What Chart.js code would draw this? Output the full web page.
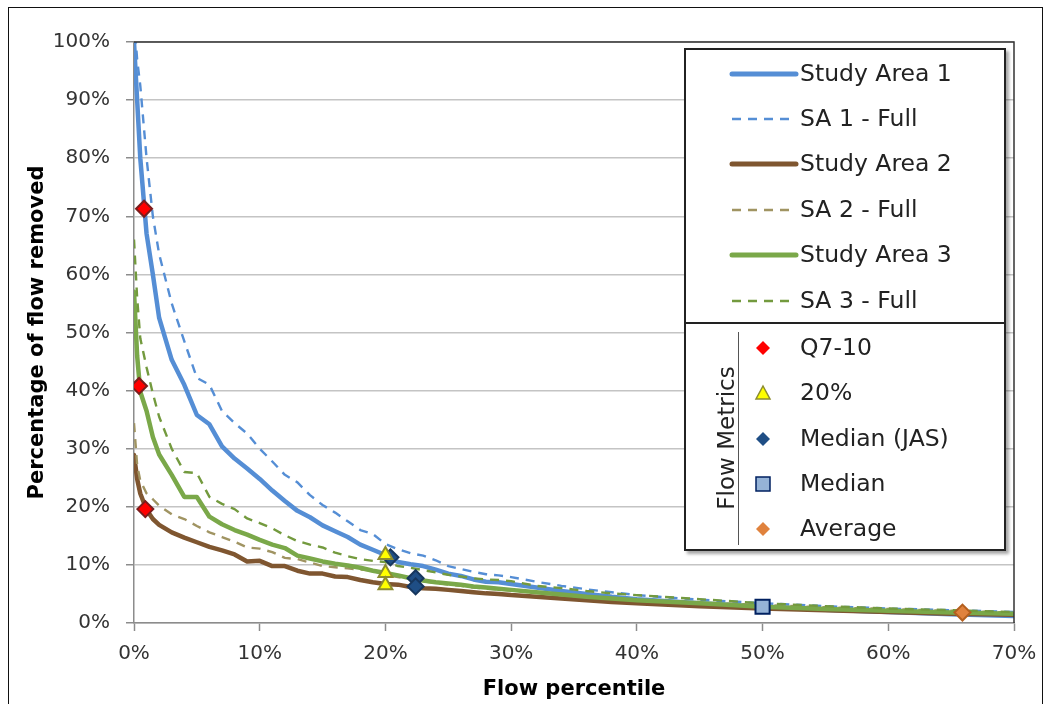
<!DOCTYPE html>
<html>
<head>
<meta charset="utf-8">
<script src="https://cdn.jsdelivr.net/npm/chart.js@4.4.1/dist/chart.umd.min.js"></script>
<style>
  body { margin: 0; background: #fff; }
  #wrap { position: relative; width: 1050px; height: 704px; overflow: hidden; }
  #frame { position: absolute; left: 8px; top: 7px; width: 1035px; height: 705px; border: 1.5px solid #111; box-sizing: border-box; }
  canvas { position: absolute; left: 0; top: 0; }
  #legend { position: absolute; left: 684px; top: 48px; width: 322px; height: 503px; border: 2px solid #222;
            background: #fff; box-sizing: border-box; box-shadow: 3px 3px 3px rgba(0,0,0,0.35);
            font-family: "DejaVu Sans", sans-serif; font-size: 23.5px; color: #222; }
  .row { position: absolute; left: 0; height: 30px; width: 100%; }
  .row svg { position: absolute; left: 40px; top: 0; }
  .row span { position: absolute; left: 114px; top: 0px; white-space: nowrap; }
  #divider { position: absolute; left: -2px; right: -2px; top: 272px; height: 0; border-top: 2px solid #222; }
  #vline { position: absolute; left: 52px; top: 282px; width: 0; height: 213px; border-left: 1.5px solid #555; }
  #metrics { position: absolute; left: 40px; top: 388px; transform: translate(-50%, -50%) rotate(-90deg); white-space: nowrap; font-size: 23px; }
</style>
</head>
<body>
<div id="wrap">
  <canvas id="flowChart" width="1050" height="704"></canvas>
  <div id="frame"></div>
  <div id="legend"></div>
</div>
<script>
// flow percentile (%) where the curves were read
const percentiles = [0, 0.25, 0.5, 1, 1.5, 2, 3, 4, 5, 6, 7, 8, 9, 10, 11, 12, 13, 14, 15, 16, 17, 18, 19, 20,
  21, 22, 23, 24, 25, 26, 27, 28, 29, 30, 32, 34, 36, 38, 40, 45, 50, 55, 60, 65, 70];

// percentage of flow removed
const studyArea1 = [100, 90, 80, 67, 60, 52.5, 45.3, 41, 35.8, 34.2, 30.4, 28.3, 26.6, 24.8, 22.8, 21, 19.3, 18.2, 16.8, 15.8,
  14.8, 13.5, 12.6, 11.7, 10.5, 10.1, 9.8, 9.2, 8.5, 8.1, 7.5, 7.1, 7.0, 6.7, 6.1, 5.5, 5.0, 4.5, 4.1, 3.4, 2.8, 2.3, 1.9, 1.5, 1.2];
const sa1Full = [104, 97, 92.5, 80, 70, 63.5, 55, 48.5, 42.2, 41, 36.5, 34.4, 32.6, 30, 27.8, 25.5, 24.2, 22, 20.3, 19,
  17.5, 16, 15.3, 13.6, 12.7, 12, 11.6, 10.8, 9.8, 9.3, 8.8, 8.4, 8.2, 7.9, 7.1, 6.4, 5.8, 5.3, 4.8, 4.0, 3.4, 2.9, 2.5, 2.2, 1.9];
const studyArea2 = [28.9, 24.8, 22.3, 19.5, 17.9, 16.9, 15.6, 14.7, 13.9, 13.1, 12.5, 11.8, 10.6, 10.7, 9.8, 9.8, 9.0, 8.5, 8.5, 8.0,
  7.9, 7.4, 7.0, 6.7, 6.6, 6.2, 6.0, 5.9, 5.7, 5.5, 5.3, 5.1, 5.0, 4.8, 4.5, 4.2, 3.9, 3.6, 3.4, 2.9, 2.5, 2.2, 1.9, 1.6, 1.4];
const sa2Full = [34.4, 27.2, 24.5, 22.3, 21.3, 20.2, 18.7, 17.9, 16.7, 15.6, 14.8, 14, 13, 12.8, 12.2, 11.2, 11, 10.4, 9.8, 9.6,
  9.4, 9.2, 9.0, 8.3, 7.9, 7.5, 7.2, 6.9, 6.6, 6.4, 6.1, 5.9, 5.8, 5.6, 5.2, 4.8, 4.5, 4.2, 4.0, 3.5, 3.1, 2.7, 2.4, 2.1, 1.8];
const studyArea3 = [57, 46, 39.8, 36.5, 32, 29, 25.5, 21.7, 21.7, 18.3, 17, 16, 15.2, 14.3, 13.5, 12.9, 11.6, 11.1, 10.6, 10.2,
  9.9, 9.5, 9.0, 8.6, 8.2, 7.7, 7.3, 7.0, 6.8, 6.6, 6.3, 6.1, 5.9, 5.7, 5.3, 4.9, 4.5, 4.2, 3.9, 3.4, 2.8, 2.4, 2.1, 1.8, 1.6];
const sa3Full = [66, 56, 49, 44, 39.5, 35.5, 30, 26, 25.8, 21.7, 20.5, 19.6, 18, 17.2, 16.3, 15.1, 14.1, 13.5, 13, 12.1,
  11.5, 11, 10.7, 10.5, 9.8, 9.5, 9.1, 8.7, 8.3, 8, 7.7, 7.5, 7.4, 7.2, 6.4, 6, 5.5, 5.1, 4.8, 4.1, 3.4, 2.9, 2.5, 2.2, 1.9];

// flow metric markers [percentile, % removed]
const q710 = [[0.8, 71.3], [0.4, 40.8], [0.9, 19.6]];
const twentyPct = [[20, 11.7], [20, 8.6], [20, 6.5]];
const medianJas = [[20.4, 11.3], [22.4, 7.7], [22.4, 6.3]];
const median = [[50, 2.8]];
const average = [[65.9, 1.8]];

const xTicks = [0, 10, 20, 30, 40, 50, 60, 70];

function pts(ys) {
    return percentiles.map((p, i) => ({ x: p, y: ys[i] }));
}
function markerPts(list) {
    return list.map(m => ({ x: m[0], y: m[1] }));
}

const lineSeries = [
    { label: 'Study Area 1', data: studyArea1, color: '#558ed5', width: 4.5, dash: [] },
    { label: 'SA 1 - Full', data: sa1Full, color: '#558ed5', width: 2.4, dash: [9, 7] },
    { label: 'Study Area 2', data: studyArea2, color: '#7f5630', width: 4.5, dash: [] },
    { label: 'SA 2 - Full', data: sa2Full, color: '#a09462', width: 2.4, dash: [9, 7] },
    { label: 'Study Area 3', data: studyArea3, color: '#7aa849', width: 4.5, dash: [] },
    { label: 'SA 3 - Full', data: sa3Full, color: '#739a3e', width: 2.4, dash: [9, 7] }
];

const markerSeries = [
    { label: 'Q7-10', data: q710, style: 'rectRot', r: 8, fill: '#ff0000', stroke: '#7a1d1d' },
    { label: '20%', data: twentyPct, style: 'triangle', r: 8, fill: '#ffff00', stroke: '#8c8c30' },
    { label: 'Median (JAS)', data: medianJas, style: 'rectRot', r: 8, fill: '#1f4e85', stroke: '#17365d' },
    { label: 'Median', data: median, style: 'rect', r: 10, fill: '#95b3d7', stroke: '#002060' },
    { label: 'Average', data: average, style: 'rectRot', r: 8, fill: '#e0823d', stroke: '#b45f1e' }
];

const datasets = [];
markerSeries.forEach(m => {
    datasets.push({
        label: m.label, data: markerPts(m.data), showLine: false,
        pointStyle: m.style, pointRadius: m.r, pointBackgroundColor: m.fill,
        pointBorderColor: m.stroke, pointBorderWidth: 2
    });
});
// draw order: SA3 on top, SA1 at the back
lineSeries.slice().reverse().forEach(s => {
    datasets.push({
        label: s.label, data: pts(s.data), showLine: true, pointRadius: 0,
        borderColor: s.color, borderWidth: s.width, borderDash: s.dash,
        tension: 0, borderJoinStyle: 'round', borderCapStyle: s.dash.length ? 'butt' : 'round'
    });
});

// top and right edge of the plot area
const plotFrame = {
    id: 'plotFrame',
    afterDatasetsDraw(chart) {
        const a = chart.chartArea;
        const ctx = chart.ctx;
        ctx.save();
        ctx.strokeStyle = '#333';
        ctx.lineWidth = 1.5;
        ctx.beginPath();
        ctx.moveTo(a.left, a.top);
        ctx.lineTo(a.right, a.top);
        ctx.lineTo(a.right, a.bottom);
        ctx.stroke();
        ctx.restore();
    }
};

Chart.defaults.font.family = '"DejaVu Sans", sans-serif';

new Chart(document.getElementById('flowChart'), {
    type: 'scatter',
    data: { datasets: datasets },
    plugins: [plotFrame],
    options: {
        responsive: false,
        animation: false,
        layout: { padding: { top: 42, right: 36, left: 0, bottom: 0 } },
        plugins: { legend: { display: false }, tooltip: { enabled: false } },
        scales: {
            x: {
                type: 'linear', min: 0, max: 70,
                afterBuildTicks: scale => { scale.ticks = xTicks.map(v => ({ value: v })); },
                afterFit: scale => { scale.height = 81; },
                ticks: { callback: v => v + '%', font: { size: 20 }, color: '#333', padding: 11, maxRotation: 0 },
                grid: { drawOnChartArea: false, tickLength: 8, tickColor: '#8c8c8c', tickWidth: 1.5 },
                border: { color: '#8c8c8c', width: 1.5 },
                title: { display: true, text: 'Flow percentile', color: '#000',
                         font: { size: 21, weight: 'bold' }, padding: { top: 2, bottom: 2 } }
            },
            y: {
                min: 0, max: 100,
                ticks: { stepSize: 10, callback: v => v + '%', font: { size: 20 }, color: '#333', padding: 16 },
                afterFit: scale => { scale.width = 134; },
                grid: { color: '#c4c4c4', lineWidth: 1.5, tickLength: 8, tickColor: '#8c8c8c', tickWidth: 1.5 },
                border: { color: '#8c8c8c', width: 1.5 },
                title: { display: true, text: 'Percentage of flow removed', color: '#000',
                         font: { size: 21, weight: 'bold' }, padding: { top: 25, bottom: 0 } }
            }
        }
    }
});

// legend box
const legend = document.getElementById('legend');
const lineRowsY = [9, 54, 99, 145, 190, 236];
lineSeries.forEach((s, i) => {
    const row = document.createElement('div');
    row.className = 'row';
    row.style.top = lineRowsY[i] + 'px';
    const dash = s.dash.length ? 'stroke-dasharray="9 7"' : '';
    const cap = s.dash.length ? 'butt' : 'round';
    row.innerHTML = '<svg width="74" height="30"><line x1="6" y1="15" x2="' + (s.dash.length ? 66 : 70) +
        '" y2="15" stroke="' + s.color + '" stroke-width="' + (s.dash.length ? 2.5 : 5) + '" stroke-linecap="' + cap + '" ' + dash + '/></svg>' +
        '<span>' + s.label + '</span>';
    legend.appendChild(row);
});

const markerRowsY = [283, 328, 374, 419, 464];
function markerSvg(m) {
    if (m.style === 'triangle') {
        return '<polygon points="37,8 44,21 30,21" fill="' + m.fill + '" stroke="' + m.stroke + '" stroke-width="1.5"/>';
    }
    if (m.style === 'rect') {
        return '<rect x="30" y="8" width="14" height="14" fill="' + m.fill + '" stroke="' + m.stroke + '" stroke-width="1.5"/>';
    }
    return '<polygon points="37,8 44,15 37,22 30,15" fill="' + m.fill + '"/>';
}
markerSeries.forEach((m, i) => {
    const row = document.createElement('div');
    row.className = 'row';
    row.style.top = markerRowsY[i] + 'px';
    row.innerHTML = '<svg width="74" height="30">' + markerSvg(m) + '</svg><span>' + m.label + '</span>';
    legend.appendChild(row);
});

const divider = document.createElement('div');
divider.id = 'divider';
legend.appendChild(divider);
const vline = document.createElement('div');
vline.id = 'vline';
legend.appendChild(vline);
const metrics = document.createElement('div');
metrics.id = 'metrics';
metrics.textContent = 'Flow Metrics';
legend.appendChild(metrics);
</script>
</body>
</html>
